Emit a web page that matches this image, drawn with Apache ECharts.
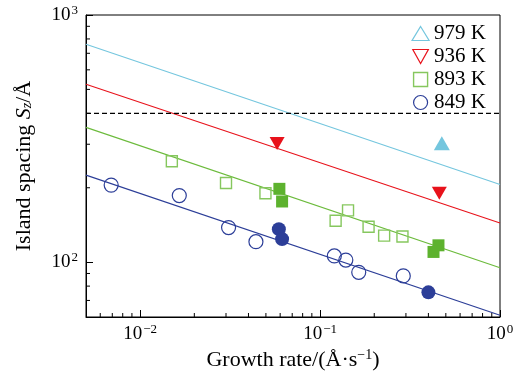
<!DOCTYPE html>
<html>
<head>
<meta charset="utf-8">
<script src="https://cdn.jsdelivr.net/npm/echarts@6/dist/echarts.min.js"></script>
<style>html,body{margin:0;padding:0;background:#fff}#c{width:522px;height:374px}</style>
</head>
<body>
<div id="c"></div>
<script>
// ---- data ----
const xMin = 0.005, xMax = 1;
const yMin = 60, yMax = 1000;
const legendNames = ['979 K', '936 K', '893 K', '849 K'];

const fit979 = [[0.005, 762], [1, 206]];
const fit936 = [[0.005, 525], [1, 144]];
const fit893 = [[0.005, 351], [1, 95]];
const fit849 = [[0.005, 225], [1, 61]];
const dashedRef = [[0.005, 400], [1, 400]];

const open849 = [[0.0069, 205], [0.0165, 186], [0.031, 138], [0.044, 121], [0.12, 106], [0.139, 102], [0.164, 91], [0.29, 88]];
const filled849 = [[0.059, 136], [0.0615, 124], [0.40, 75.5]];
const open893 = [[0.015, 256], [0.030, 209], [0.0497, 190], [0.122, 147], [0.143, 162], [0.186, 139], [0.227, 128], [0.287, 127]];
const filled893 = [[0.0594, 198], [0.0615, 176], [0.455, 117], [0.427, 110]];
const filled936 = [[0.0577, 302], [0.46, 190]];
const filled979 = [[0.475, 303]];

const xMinorTicks = [0.006, 0.007, 0.008, 0.009, 0.02, 0.03, 0.04, 0.05, 0.06, 0.07, 0.08, 0.09, 0.2, 0.3, 0.4, 0.5, 0.6, 0.7, 0.8, 0.9];
const yMinorTicks = [70, 80, 90, 200, 300, 400, 500, 600, 700, 800, 900];

// ---- styles ----
const FONT = 'Liberation Serif';
const cCyan = '#74c6de', cRed = '#e8121b', cGreen = '#6cbb3c', cGreenOpen = '#86c75e', cGreenFill = '#5db22e', cBlue = '#2c3e98';
const downTri = 'path://M0,0L10,0L5,9Z';
const squarePath = 'path://M0,0L10,0L10,10L0,10Z';

function powLabel(v) {
  const l = Math.log10(v);
  const e = Math.round(l);
  if (Math.abs(l - e) > 1e-6) return '';
  return '10{sup|' + (e < 0 ? '\u2212' + (-e) : e) + '}';
}
const labelRich = {
  sup: { fontFamily: FONT, fontSize: 13, padding: [0, 0, 9, 1], color: '#000' }
};

const chart = echarts.init(document.getElementById('c'), null, { renderer: 'canvas' });

function lineSeries(data, color, dashed) {
  return {
    type: 'line', data: data, showSymbol: false, symbol: 'none', silent: true,
    lineStyle: { color: color, width: dashed ? 1.3 : 1.1, type: dashed ? [5, 3] : 'solid' },
    z: 1
  };
}

chart.setOption({
  animation: false,
  backgroundColor: '#fff',
  grid: { left: 86, right: 22, top: 15, bottom: 57, show: true, borderColor: '#000', borderWidth: 1,
    backgroundColor: 'transparent', containLabel: false, outerBoundsMode: 'none' },
  xAxis: {
    type: 'log', min: xMin, max: xMax, logBase: 10,
    name: 'Growth rate/(\u00C5\u00B7s{sup|\u22121})',
    nameLocation: 'middle', nameGap: 30,
    nameTextStyle: { fontFamily: FONT, fontSize: 22, color: '#000', rich: { sup: { fontFamily: FONT, fontSize: 14, padding: [0, 0, 10, 0], color: '#000' } } },
    axisLine: { show: true, lineStyle: { color: '#000', width: 1 } },
    axisTick: { show: true, inside: true, length: 7, lineStyle: { color: '#000', width: 1 } },
    axisLabel: { formatter: powLabel, fontFamily: FONT, fontSize: 19, color: '#000', margin: 6, rich: labelRich, showMinLabel: true },
    splitLine: { show: false }, minorTick: { show: false }
  },
  yAxis: {
    type: 'log', min: yMin, max: yMax, logBase: 10,
    name: 'Island spacing {i|S}{sub|z}/\u00C5',
    nameLocation: 'middle', nameGap: 51, nameRotate: 90,
    nameTextStyle: { fontFamily: FONT, fontSize: 22, color: '#000', rich: {
      i: { fontFamily: FONT, fontSize: 22, fontStyle: 'italic', color: '#000' },
      sub: { fontFamily: FONT, fontSize: 14, fontStyle: 'italic', padding: [7, 0, 0, 0], color: '#000' }
    } },
    axisLine: { show: true, lineStyle: { color: '#000', width: 1 } },
    axisTick: { show: true, inside: true, length: 7, lineStyle: { color: '#000', width: 1 } },
    axisLabel: { formatter: powLabel, fontFamily: FONT, fontSize: 19, color: '#000', margin: 8, rich: labelRich },
    splitLine: { show: false }, minorTick: { show: false }
  },
  legend: {
    orient: 'vertical', right: 31, top: 18, itemGap: 2, itemWidth: 17, itemHeight: 14,
    textStyle: { fontFamily: FONT, fontSize: 21, color: '#000', lineHeight: 21 },
    data: [
      { name: '979 K', icon: 'triangle', itemStyle: { color: 'rgba(0,0,0,0)', borderColor: cCyan, borderWidth: 1.2 } },
      { name: '936 K', icon: downTri, itemStyle: { color: 'rgba(0,0,0,0)', borderColor: cRed, borderWidth: 1.2 } },
      { name: '893 K', icon: squarePath, itemStyle: { color: 'rgba(0,0,0,0)', borderColor: cGreenOpen, borderWidth: 1.4 } },
      { name: '849 K', icon: 'circle', itemStyle: { color: 'rgba(0,0,0,0)', borderColor: cBlue, borderWidth: 1.2 } }
    ]
  },
  series: [
    lineSeries(fit979, cCyan),
    lineSeries(fit936, cRed),
    lineSeries(fit893, cGreen),
    lineSeries(fit849, cBlue),
    lineSeries(dashedRef, '#000', true),
    { name: '849 K', type: 'scatter', data: open849, symbol: 'circle', symbolSize: 14,
      itemStyle: { color: 'rgba(0,0,0,0)', borderColor: cBlue, borderWidth: 1.2, opacity: 1 }, z: 3 },
    { name: '849 K (filled)', type: 'scatter', data: filled849, symbol: 'circle', symbolSize: 14,
      itemStyle: { color: cBlue, opacity: 1 }, z: 3 },
    { name: '893 K', type: 'scatter', data: open893, symbol: 'rect', symbolSize: 11,
      itemStyle: { color: 'rgba(0,0,0,0)', borderColor: cGreenOpen, borderWidth: 1.4, opacity: 1 }, z: 3 },
    { name: '893 K (filled)', type: 'scatter', data: filled893, symbol: 'rect', symbolSize: 12,
      itemStyle: { color: cGreenFill, opacity: 1 }, z: 3 },
    { name: '936 K', type: 'scatter', data: filled936, symbol: downTri, symbolSize: [15, 13],
      itemStyle: { color: cRed, opacity: 1 }, z: 3 },
    { name: '979 K', type: 'scatter', data: filled979, symbol: 'triangle', symbolSize: [16, 14],
      itemStyle: { color: cCyan, opacity: 1 }, z: 3 },
    { type: 'custom', silent: true, data: xMinorTicks.map(v => [v, yMin]), clip: false, z: 4,
      renderItem: function (params, api) {
        const p = api.coord([api.value(0), api.value(1)]);
        return { type: 'line', shape: { x1: p[0], y1: p[1], x2: p[0], y2: p[1] - 4 }, style: { stroke: '#000', lineWidth: 1 } };
      } },
    { type: 'custom', silent: true, data: yMinorTicks.map(v => [xMin, v]), clip: false, z: 4,
      renderItem: function (params, api) {
        const p = api.coord([api.value(0), api.value(1)]);
        return { type: 'line', shape: { x1: p[0], y1: p[1], x2: p[0] + 4, y2: p[1] }, style: { stroke: '#000', lineWidth: 1 } };
      } }
  ]
});
</script>
</body>
</html>
